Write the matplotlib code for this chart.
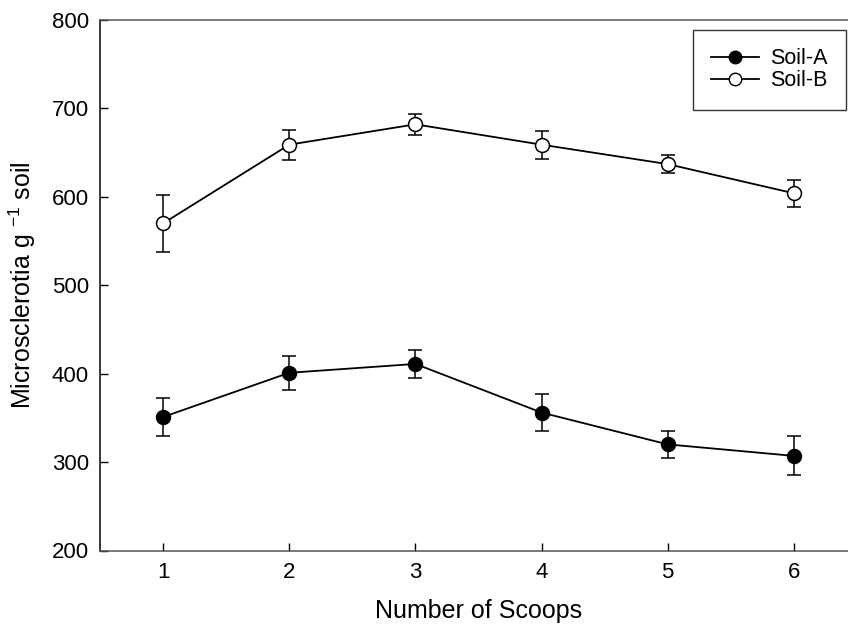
import matplotlib
matplotlib.use("Agg")
import matplotlib.pyplot as plt
from matplotlib.lines import Line2D

plt.rcParams['font.family'] = ['Liberation Sans', 'DejaVu Sans']
plt.rcParams['mathtext.default'] = 'regular'

scoops = [1, 2, 3, 4, 5, 6]
soil_a = [351, 401, 411, 356, 320, 307]
soil_a_err = [22, 19, 16, 21, 15, 22]
soil_b = [570, 659, 682, 659, 637, 604]
soil_b_err = [32, 17, 12, 16, 10, 15]
yticks = [200, 300, 400, 500, 600, 700, 800]

fig = plt.figure(figsize=(8.48, 6.27), dpi=100)
ax = fig.add_axes([100/848, (627-550.5)/627, 757/848, (550.5-20)/627])

common = dict(color='black', linewidth=1.3, markersize=10, capsize=5,
              elinewidth=1.1, capthick=1.1, markeredgewidth=1.1, markeredgecolor='black')
ax.errorbar(scoops, soil_a, yerr=soil_a_err, marker='o', markerfacecolor='black', **common)
ax.errorbar(scoops, soil_b, yerr=soil_b_err, marker='o', markerfacecolor='white', **common)

ax.set_xlim(0.5, 6.5)
ax.set_ylim(200, 800)
ax.set_xticks(scoops)
ax.set_yticks(yticks)
ax.tick_params(direction='in', length=6, width=1, labelsize=16, pad=8)
for s in ax.spines.values():
    s.set_linewidth(1.1)
ax.spines['top'].set_color('#555555')
ax.spines['bottom'].set_color('#555555')

ax.set_xlabel('Number of Scoops', fontsize=18, labelpad=12)
ax.set_ylabel('Microsclerotia g $^{-1}$ soil', fontsize=18, labelpad=10)

handles = [
    Line2D([], [], color='black', linewidth=1.3, marker='o', markersize=9,
           markerfacecolor='black', markeredgecolor='black'),
    Line2D([], [], color='black', linewidth=1.3, marker='o', markersize=9,
           markerfacecolor='white', markeredgecolor='black'),
]
leg = ax.legend(handles, ['Soil-A', 'Soil-B'], loc='upper left',
                bbox_to_anchor=((693-100)/757, 1 - 10/530.5),
                fontsize=15.5, frameon=True, fancybox=False, edgecolor='black',
                handlelength=2.2, borderpad=0.85, labelspacing=0.05, handletextpad=0.55,
                borderaxespad=0)
leg.get_frame().set_linewidth(1.0)

fig.savefig('out.png', dpi=100)
